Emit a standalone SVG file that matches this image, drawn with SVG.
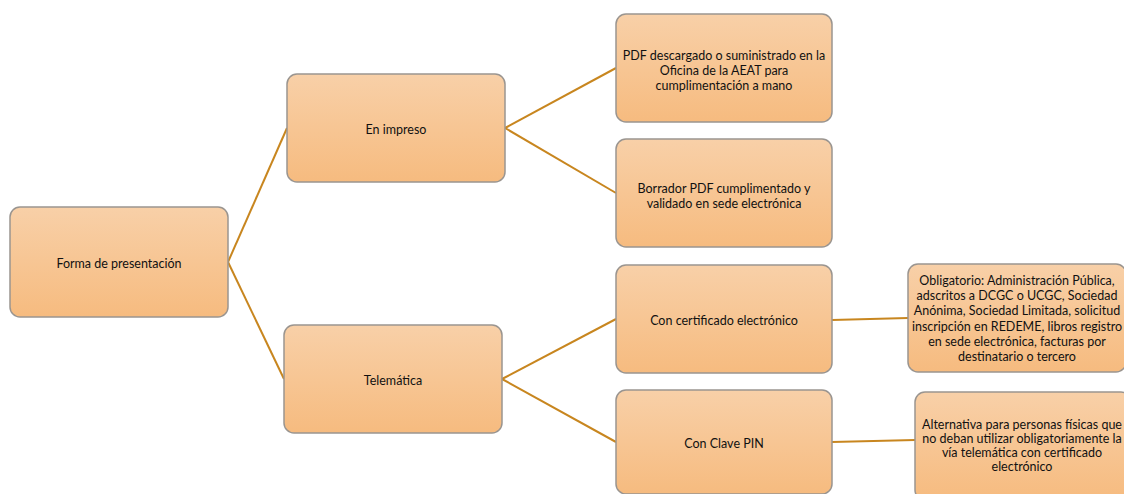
<svg xmlns="http://www.w3.org/2000/svg" width="1124" height="494" viewBox="0 0 1124 494">
  <defs>
    <linearGradient id="g" x1="0" y1="0" x2="0" y2="1">
      <stop offset="0" stop-color="#F8D0A8"/>
      <stop offset="1" stop-color="#F6BB7F"/>
    </linearGradient>
  </defs>
  <style>
    .box { fill: url(#g); stroke: #9A9590; stroke-width: 1.5; }
    .t { font-family: Lato, "Liberation Sans", sans-serif; font-size: 12.5px; fill: #111; text-anchor: middle; dominant-baseline: central; }
    .c { stroke: #C8861F; stroke-width: 2; fill: none; }
  </style>
  <rect width="1124" height="494" fill="#fff"/>
  <g id="connectors">
    <line class="c" x1="228" y1="262" x2="287" y2="128"/>
    <line class="c" x1="228" y1="262" x2="284" y2="379"/>
    <line class="c" x1="505" y1="128" x2="616" y2="68"/>
    <line class="c" x1="505" y1="128" x2="616" y2="193"/>
    <line class="c" x1="502" y1="379" x2="616" y2="319"/>
    <line class="c" x1="502" y1="379" x2="616" y2="442"/>
    <line class="c" x1="832" y1="320" x2="908" y2="318"/>
    <line class="c" x1="832" y1="442" x2="915" y2="440"/>
  </g>
  <g id="n-forma">
    <rect class="box" x="10" y="207" width="218" height="110" rx="10"/>
    <text class="t" x="119" y="263">Forma de presentación</text>
  </g>
  <g id="n-impreso">
    <rect class="box" x="287" y="74" width="218" height="108" rx="10"/>
    <text class="t" x="396" y="129">En impreso</text>
  </g>
  <g id="n-telematica">
    <rect class="box" x="284" y="325" width="218" height="108" rx="10"/>
    <text class="t" x="393" y="380">Telemática</text>
  </g>
  <g id="n-pdf">
    <rect class="box" x="616" y="14" width="216" height="108" rx="10"/>
    <text class="t" x="724" y="55">PDF descargado o suministrado en la</text>
    <text class="t" x="724" y="70">Oficina de la AEAT para</text>
    <text class="t" x="724" y="85">cumplimentación a mano</text>
  </g>
  <g id="n-borrador">
    <rect class="box" x="616" y="139" width="216" height="108" rx="10"/>
    <text class="t" x="724" y="188">Borrador PDF cumplimentado y</text>
    <text class="t" x="724" y="203">validado en sede electrónica</text>
  </g>
  <g id="n-certificado">
    <rect class="box" x="616" y="265" width="216" height="108" rx="10"/>
    <text class="t" x="724" y="320">Con certificado electrónico</text>
  </g>
  <g id="n-pin">
    <rect class="box" x="616" y="390" width="216" height="104" rx="10"/>
    <text class="t" x="724" y="443">Con Clave PIN</text>
  </g>
  <g id="n-obligatorio">
    <rect class="box" x="908" y="264" width="218" height="108" rx="10"/>
    <text class="t" x="1017" y="280">Obligatorio: Administración Pública,</text>
    <text class="t" x="1017" y="295">adscritos a DCGC o UCGC, Sociedad</text>
    <text class="t" x="1017" y="310">Anónima, Sociedad Limitada, solicitud</text>
    <text class="t" x="1017" y="326">inscripción en REDEME, libros registro</text>
    <text class="t" x="1017" y="341">en sede electrónica, facturas por</text>
    <text class="t" x="1017" y="356">destinatario o tercero</text>
  </g>
  <g id="n-alternativa">
    <rect class="box" x="915" y="392" width="216" height="108" rx="10"/>
    <text class="t" x="1022" y="424">Alternativa para personas físicas que</text>
    <text class="t" x="1022" y="438">no deban utilizar obligatoriamente la</text>
    <text class="t" x="1022" y="452">vía telemática con certificado</text>
    <text class="t" x="1022" y="466">electrónico</text>
  </g>
</svg>
